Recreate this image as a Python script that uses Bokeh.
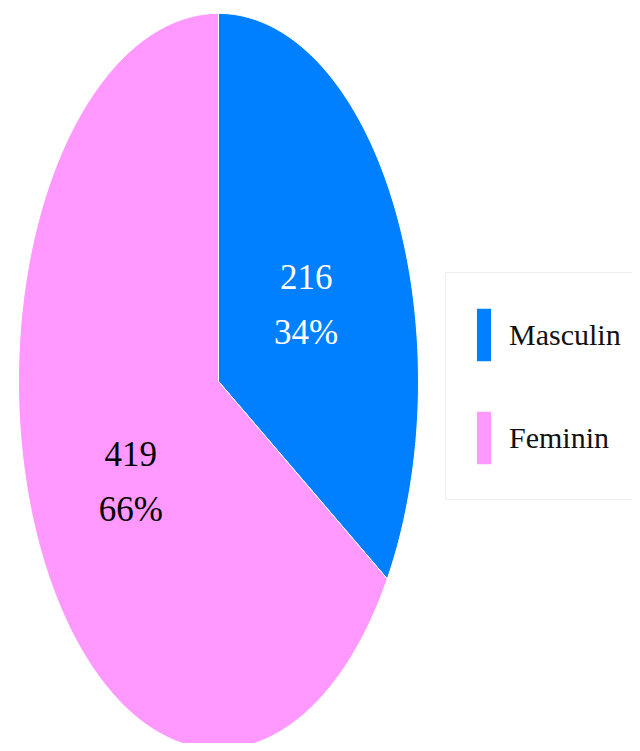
import numpy as np
from bokeh.plotting import figure
from bokeh.models import ColumnDataSource, Legend, LegendItem, Range1d
from bokeh.core.properties import value
from bokeh.embed import file_html
from bokeh.resources import INLINE

# ---- data ----
categories = ["Masculin", "Feminin"]
counts = [216, 419]
colors = ["#0080FF", "#FF99FF"]
label_colors = ["#FFFFFF", "#000000"]

total = sum(counts)
percents = [round(c / total * 100) for c in counts]

p = figure(width=632, height=743, output_backend="svg", toolbar_location=None,
           x_range=Range1d(-1.09, 2.07), y_range=Range1d(-0.984, 1.035),
           min_border=0)
p.axis.visible = False
p.grid.visible = False
p.outline_line_color = None
p.background_fill_color = "white"

# slices start at 12 o'clock, go clockwise; the y-scale stretches them into an ellipse
xs, ys, lx, ly, texts = [], [], [], [], []
start = 0.0
for c, pc in zip(counts, percents):
    frac = c / total
    a0, a1 = start * 2 * np.pi, (start + frac) * 2 * np.pi
    t = np.linspace(a0, a1, 240)
    xs.append([0.0] + list(np.sin(t)) + [0.0])
    ys.append([0.0] + list(np.cos(t)) + [0.0])
    mid = (a0 + a1) / 2
    lx.append(0.5 * np.sin(mid))
    ly.append(0.5 * np.cos(mid))
    texts.append(f"{c}\n{pc}%")
    start += frac

src = ColumnDataSource(dict(xs=xs, ys=ys, color=colors, cat=categories))
r = p.patches("xs", "ys", source=src, fill_color="color", line_color="white", line_width=1)

lsrc = ColumnDataSource(dict(x=lx, y=ly, text=texts, color=label_colors))
p.text("x", "y", text="text", source=lsrc, text_color="color",
       text_align="center", text_baseline="middle",
       text_font=value("Liberation Serif"), text_font_size="35px",
       text_line_height=1.4, y_offset=12)

legend = Legend(items=[LegendItem(label=categories[i], renderers=[r], index=i) for i in range(len(categories))],
                location=(445, 243), orientation="vertical",
                glyph_width=19, glyph_height=67, spacing=36, padding=28,
                label_standoff=16, label_text_font="Liberation Serif",
                label_text_font_size="30px", label_text_color="#111111",
                label_height=67, label_width=150,
                border_line_color="#DDDDDD", border_line_width=1,
                background_fill_color="white", background_fill_alpha=1.0)
legend.margin = 0
p.add_layout(legend, "center")

open("out.html", "w").write(file_html(p, INLINE))
